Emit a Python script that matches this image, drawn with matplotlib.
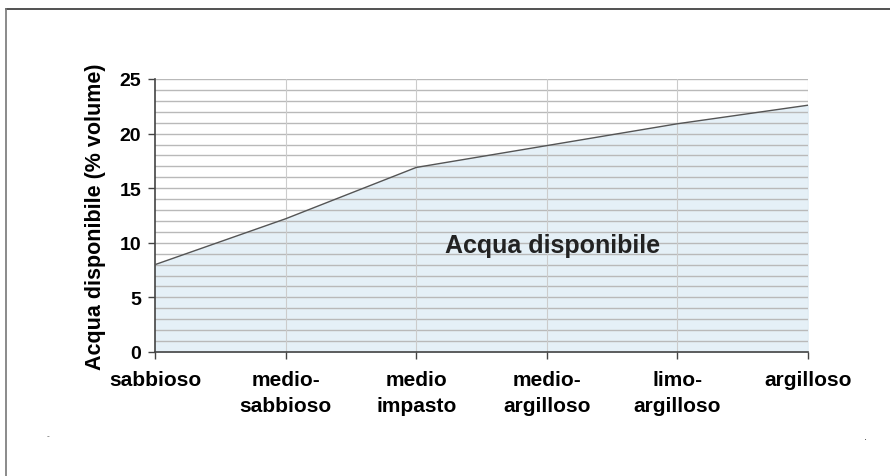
import matplotlib
matplotlib.use("Agg")
import matplotlib.pyplot as plt
from matplotlib.lines import Line2D

plt.rcParams['font.family'] = ['Liberation Sans', 'DejaVu Sans']

# soil texture classes and available water (% volume)
categories = ["sabbioso", "medio-\nsabbioso", "medio\nimpasto",
              "medio-\nargilloso", "limo-\nargilloso", "argilloso"]
water = [8, 12.2, 16.9, 18.9, 20.9, 22.6]
y_ticks = [0, 5, 10, 15, 20, 25]

fig = plt.figure(figsize=(8.9, 4.77), dpi=100)
fig.patch.set_facecolor('white')

ax = fig.add_axes([0.1742, 0.2600, 0.7337, 0.5723])
x = list(range(len(categories)))

ax.fill_between(x, 0, water, color='#e5f0f7', zorder=1)
ax.plot(x, water, color='#555555', lw=1.0, zorder=3)

# fine horizontal grid every unit, vertical grid at each class
for v in range(1, 26):
    ax.axhline(v, color='#b9b9b9', lw=1.0, zorder=2)
for xi in x[1:]:
    ax.axvline(xi, color='#cccccc', lw=0.8, zorder=2)

ax.set_xlim(0, len(categories) - 1)
ax.set_ylim(0, 25)
ax.set_yticks(y_ticks)
ax.set_xticks(x)
ax.set_xticklabels(categories, fontsize=15, fontweight='bold', linespacing=1.45)
ax.set_yticklabels([str(t) for t in y_ticks], fontsize=14, fontweight='bold')
ax.tick_params(axis='both', direction='out', length=5, width=1, color='#444444', pad=5)
ax.tick_params(axis='x', pad=8)

for side in ('top', 'right'):
    ax.spines[side].set_visible(False)
for side in ('left', 'bottom'):
    ax.spines[side].set_color('#444444')
    ax.spines[side].set_linewidth(1.2)

ax.set_ylabel("Acqua disponibile (% volume)", fontsize=15.5, fontweight='bold', labelpad=10)
ax.text(2.22, 9.8, "Acqua disponibile", fontsize=18, fontweight='bold',
        color='#222222', ha='left', va='center', zorder=4)

# outer frame lines and corner marks
fig.add_artist(Line2D([0.007, 1.0], [0.979, 0.979], color='#333333', lw=1.2))
fig.add_artist(Line2D([0.007, 0.007], [0.0, 0.979], color='#777777', lw=1.2))
fig.text(0.054, 0.084, "-", fontsize=6, color='#555555', ha='center', va='center')
fig.text(0.972, 0.084, ".", fontsize=8, color='#333333', ha='center', va='center')

fig.savefig("out.png", dpi=100)
